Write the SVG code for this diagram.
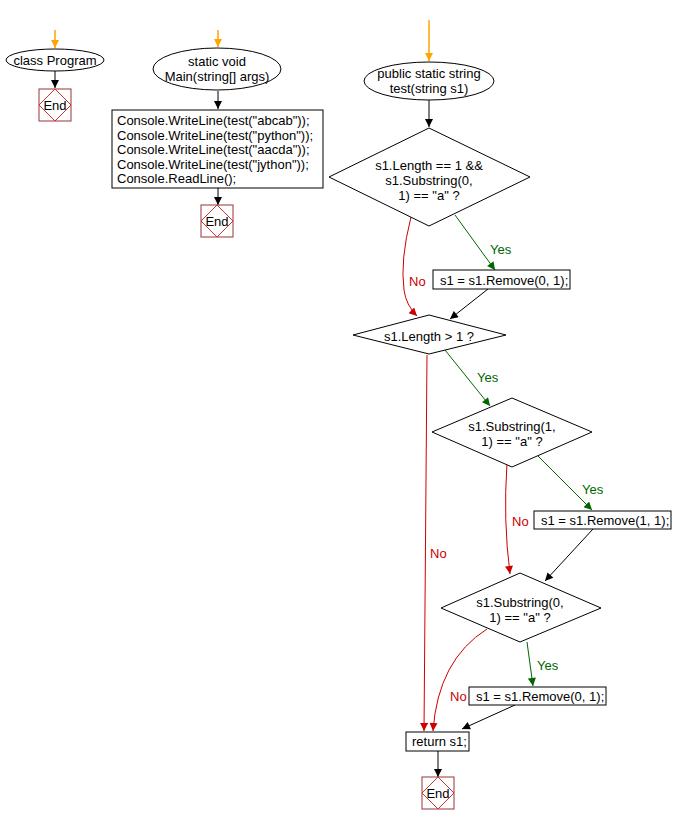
<svg xmlns="http://www.w3.org/2000/svg" width="673" height="825" viewBox="0 0 673 825">
<style>
text{font-family:"Liberation Sans",Arial,sans-serif;font-size:13px;fill:#000}
.c{text-anchor:middle}
.shape{fill:#fff;stroke:#000;stroke-width:1}
.endbox{fill:#fff;stroke:#993333;stroke-width:1}
.enddia{fill:none;stroke:#cc3333;stroke-width:1}
.k{fill:none;stroke:#000;stroke-width:1}
.o{fill:none;stroke:#ffa500;stroke-width:1.5}
.r{fill:none;stroke:#cc0000;stroke-width:1}
.g{fill:none;stroke:#006600;stroke-width:1}
.lr{fill:#cc0000}
.lg{fill:#006600}
</style>
<defs>
<marker id="aK" viewBox="0 0 10 10" refX="10" refY="5" markerUnits="userSpaceOnUse" markerWidth="9" markerHeight="8" orient="auto"><path d="M0,0 L10,5 L0,10 z" fill="#000"/></marker>
<marker id="aR" viewBox="0 0 10 10" refX="10" refY="5" markerUnits="userSpaceOnUse" markerWidth="9" markerHeight="8" orient="auto"><path d="M0,0 L10,5 L0,10 z" fill="#cc0000"/></marker>
<marker id="aG" viewBox="0 0 10 10" refX="10" refY="5" markerUnits="userSpaceOnUse" markerWidth="9" markerHeight="8" orient="auto"><path d="M0,0 L10,5 L0,10 z" fill="#006600"/></marker>
<marker id="aO" viewBox="0 0 10 10" refX="10" refY="5" markerUnits="userSpaceOnUse" markerWidth="9" markerHeight="8" orient="auto"><path d="M0,0 L10,5 L0,10 z" fill="#ffa500"/></marker>
</defs>

<g id="connectors">
<path class="o" d="M55,30 L55,48" marker-end="url(#aO)"/>
<path class="k" stroke-width="2" d="M55,71 L55,88" marker-end="url(#aK)"/>
<path class="o" d="M218,30 L218,47" marker-end="url(#aO)"/>
<path class="k" stroke-width="2" d="M218,91 L218,109" marker-end="url(#aK)"/>
<path class="k" stroke-width="2" d="M218,188 L218,205" marker-end="url(#aK)"/>
<path class="o" d="M429,20 L429,61" marker-end="url(#aO)"/>
<path class="k" stroke-width="1.5" d="M429,100 L429,127" marker-end="url(#aK)"/>
<path class="g" d="M455,215 L495,270" marker-end="url(#aG)"/>
<path class="r" d="M411,217 Q400,260 404,290 Q406,305 417,316" marker-end="url(#aR)"/>
<path class="k" d="M488,289 L450,319" marker-end="url(#aK)"/>
<path class="g" d="M445,350 L490,406" marker-end="url(#aG)"/>
<path class="r" d="M427,355 L424,731" marker-end="url(#aR)"/>
<path class="g" d="M537,455 L592,510" marker-end="url(#aG)"/>
<path class="r" d="M507,463 Q503,520 510,574" marker-end="url(#aR)"/>
<path class="k" d="M593,529 L545,581" marker-end="url(#aK)"/>
<path class="g" d="M527,642 L533,686" marker-end="url(#aG)"/>
<path class="r" d="M487,629 Q438,660 433,731" marker-end="url(#aR)"/>
<path class="k" d="M515,705 L462,729" marker-end="url(#aK)"/>
<path class="k" stroke-width="2" d="M438,751 L438,777" marker-end="url(#aK)"/>
<text class="lg" x="490" y="254">Yes</text>
<text class="lr" x="409" y="286">No</text>
<text class="lg" x="477" y="382">Yes</text>
<text class="lr" x="430" y="558">No</text>
<text class="lg" x="582" y="494">Yes</text>
<text class="lr" x="512" y="526">No</text>
<text class="lg" x="537" y="670">Yes</text>
<text class="lr" x="450" y="701">No</text>
</g>

<g id="class-program">
<ellipse class="shape" cx="55" cy="60" rx="49" ry="11"/>
<text class="c" x="55" y="65">class Program</text>
</g>
<g id="end1">
<rect class="endbox" x="39" y="89" width="32" height="32"/>
<path class="enddia" d="M55,89 L71,105 L55,121 L39,105 z"/>
<text class="c" x="55" y="110">End</text>
</g>

<g id="main">
<ellipse class="shape" cx="217" cy="69" rx="64" ry="21"/>
<text class="c" x="217" y="66">static void</text>
<text class="c" x="217" y="81">Main(string[] args)</text>
</g>
<g id="main-body">
<rect class="shape" x="112" y="110" width="211" height="78"/>
<text x="117" y="125">Console.WriteLine(test("abcab"));</text>
<text x="117" y="139.5">Console.WriteLine(test("python"));</text>
<text x="117" y="154">Console.WriteLine(test("aacda"));</text>
<text x="117" y="168.5">Console.WriteLine(test("jython"));</text>
<text x="117" y="183">Console.ReadLine();</text>
</g>
<g id="end2">
<rect class="endbox" x="201" y="205" width="32" height="32"/>
<path class="enddia" d="M217,205 L233,221 L217,237 L201,221 z"/>
<text class="c" x="217" y="226">End</text>
</g>

<g id="test">
<ellipse class="shape" cx="429" cy="81" rx="65" ry="19"/>
<text class="c" x="429" y="78">public static string</text>
<text class="c" x="429" y="93">test(string s1)</text>
</g>
<g id="cond1">
<path class="shape" d="M429,128 L530,177 L429,226 L329,177 z"/>
<text class="c" x="429" y="170">s1.Length == 1 &amp;&amp;</text>
<text class="c" x="429" y="185">s1.Substring(0,</text>
<text class="c" x="429" y="200">1) == "a" ?</text>
</g>
<g id="remove01a">
<rect class="shape" x="433" y="270" width="137" height="19"/>
<text x="440" y="284.5">s1 = s1.Remove(0, 1);</text>
</g>
<g id="cond2">
<path class="shape" d="M429,315 L506,335 L429,354 L353,335 z"/>
<text class="c" x="429" y="341">s1.Length &gt; 1 ?</text>
</g>
<g id="cond3">
<path class="shape" d="M512,398 L592,432 L512,467 L432,432 z"/>
<text class="c" x="512" y="431">s1.Substring(1,</text>
<text class="c" x="512" y="446">1) == "a" ?</text>
</g>
<g id="remove11">
<rect class="shape" x="534" y="511" width="137" height="18"/>
<text x="541" y="525">s1 = s1.Remove(1, 1);</text>
</g>
<g id="cond4">
<path class="shape" d="M520,573 L601,608 L520,642 L441,608 z"/>
<text class="c" x="520" y="607">s1.Substring(0,</text>
<text class="c" x="520" y="622">1) == "a" ?</text>
</g>
<g id="remove01b">
<rect class="shape" x="469" y="687" width="137" height="18"/>
<text x="476" y="701">s1 = s1.Remove(0, 1);</text>
</g>
<g id="return">
<rect class="shape" x="406" y="732" width="63" height="19"/>
<text x="412" y="746">return s1;</text>
</g>
<g id="end3">
<rect class="endbox" x="422" y="777" width="32" height="32"/>
<path class="enddia" d="M438,777 L454,793 L438,809 L422,793 z"/>
<text class="c" x="438" y="798">End</text>
</g>
</svg>
